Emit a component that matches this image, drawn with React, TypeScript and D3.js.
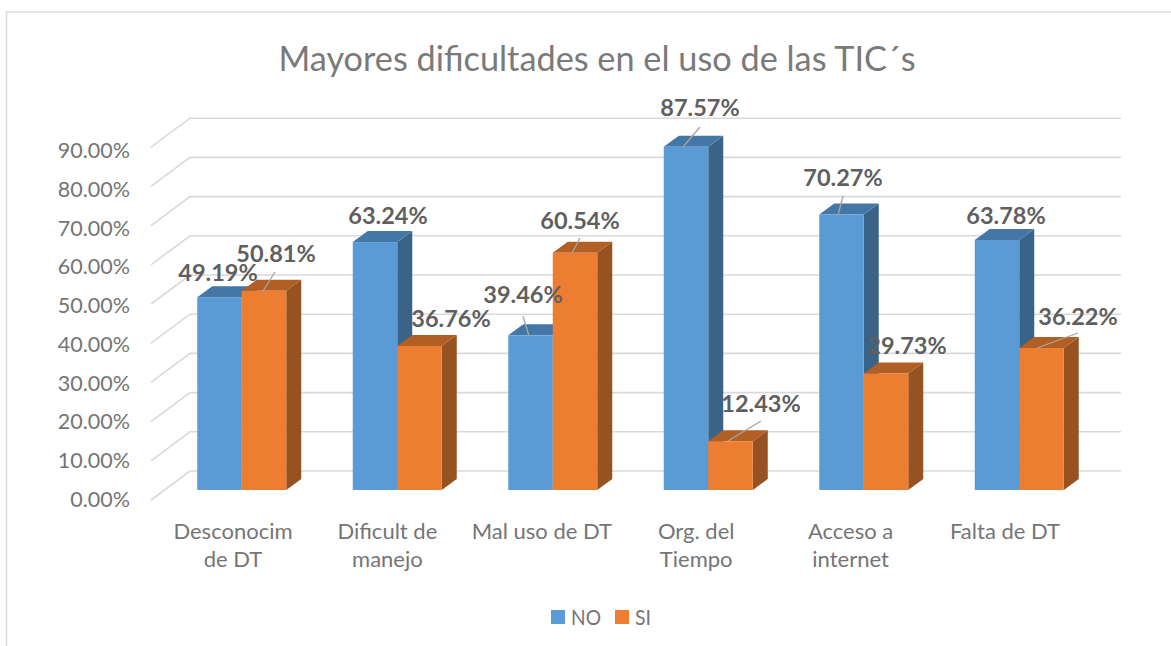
import React from "react";
import * as d3 from "d3";

const categories = [["Desconocim", "de DT"], ["Dificult de", "manejo"], ["Mal uso de DT"], ["Org. del", "Tiempo"], ["Acceso a", "internet"], ["Falta de DT"]];
const categoryKeys = ["a", "b", "c", "d", "e", "f"];
const valuesNo = [49.19, 63.24, 39.46, 87.57, 70.27, 63.78];
const valuesSi = [50.81, 36.76, 60.54, 12.43, 29.73, 36.22];
const yTicks = [0, 10, 20, 30, 40, 50, 60, 70, 80, 90];
const labelNo = [[218, 272], [388, 215], [523, 294], [700, 107], [843, 177], [1006, 215]];
const labelSi = [[276, 253], [451, 318], [580, 220], [761, 403], [907, 345], [1078, 316]];
const leaderNo: (number[] | null)[] = [null, null, [529, 336, 523, 316], [683, 147, 700, 127], [838, 215, 843, 196], null];
const leaderSi: (number[] | null)[] = [[263, 291, 275, 272], null, [572, 253, 580, 238], [728, 441, 761, 421], null, [1037, 348, 1078, 333]];

const W = 1171, H = 646;
const y = d3.scaleLinear().domain([0, 90]).range([490, 137.2]);
const tickLabelY = d3.scaleLinear().domain([0, 90]).range([507, 158]);
const x0 = d3.scaleBand<string>().domain(categoryKeys).range([164, 1097]).paddingInner(0.4277).paddingOuter(0.2138);
const labelX = d3.scalePoint<string>().domain(categoryKeys).range([233, 1005]);
const barW = 44.5, depthX = 15, depthY = 11;
const wallDx = 39, wallDy = 29, wallOffset = 19;
const font = "Lato, Carlito, sans-serif";

function Bar({ x, v, c }: { x: number; v: number; c: string[] }) {
  const t = y(v), b = y(0);
  return (
    <g>
      <polygon points={[[x + barW, t], [x + barW + depthX, t - depthY], [x + barW + depthX, b - depthY], [x + barW, b]].join(" ")} fill={c[2]} />
      <polygon points={[[x, t], [x + depthX, t - depthY], [x + barW + depthX, t - depthY], [x + barW, t]].join(" ")} fill={c[1]} />
      <rect x={x} y={t} width={barW} height={b - t} fill={c[0]} />
    </g>
  );
}

const BLUE = ["#5b9bd5", "#4477a6", "#3a6388"];
const ORANGE = ["#ed7d31", "#b25f26", "#965220"];

export default function App() {
  const wallRight = 1121, wallLeft = 190;
  return (
    <svg width={W} height={H} viewBox={`0 0 ${W} ${H}`} style={{ position: "absolute", left: 0, top: 0, background: "#fff" }}>
      <path d={`M6.5 ${H}V12H${W}`} fill="none" stroke="#dedede" strokeWidth={1.6} />
      <text x={597} y={71} textAnchor="middle" fontFamily={font} fontSize={34} fill="#7a7a7a" textLength={637} lengthAdjust="spacingAndGlyphs">Mayores dificultades en el uso de las TIC´s</text>
      {yTicks.map((t) => {
        const by = y(t) - wallOffset;
        return (
          <g key={t}>
            <path d={`M${wallLeft - wallDx} ${by + wallDy}L${wallLeft} ${by}H${wallRight}`} fill="none" stroke="#d9d9d9" strokeWidth={1.6} />
            <text x={130} y={tickLabelY(t)} textAnchor="end" fontFamily={font} fontSize={21.5} fill="#757575">{t.toFixed(2)}%</text>
          </g>
        );
      })}
      {categoryKeys.map((k, i) => {
        const gx = x0(k)! + x0.bandwidth() / 2 - barW;
        return (
          <g key={k}>
            <Bar x={gx} v={valuesNo[i]} c={BLUE} />
            <Bar x={gx + barW} v={valuesSi[i]} c={ORANGE} />
            {categories[i].map((l, j) => (
              <text key={j} x={labelX(k)!} y={539 + j * 28} textAnchor="middle" fontFamily={font} fontSize={22} fill="#757575">{l}</text>
            ))}
          </g>
        );
      })}
      {[...leaderNo, ...leaderSi].map((l, i) => l && (
        <line key={i} x1={l[0]} y1={l[1]} x2={l[2]} y2={l[3]} stroke="#a6a6a6" strokeWidth={1.3} />
      ))}
      {[[labelNo, valuesNo], [labelSi, valuesSi]].map(([pos, vals]: any, s) => vals.map((v: number, i: number) => (
        <text key={`${s}${i}`} x={pos[i][0]} y={pos[i][1] + 9} textAnchor="middle" fontFamily={font} fontWeight={700} fontSize={23.5} fill="#5f5f5f">{v.toFixed(2)}%</text>
      )))}
      <rect x={551} y={610} width={14} height={14} fill="#5b9bd5" />
      <text x={571} y={625} fontFamily={font} fontSize={21} fill="#757575" textLength={30} lengthAdjust="spacingAndGlyphs">NO</text>
      <rect x={615} y={610} width={14} height={14} fill="#ed7d31" />
      <text x={635} y={625} fontFamily={font} fontSize={21} fill="#757575" textLength={16} lengthAdjust="spacingAndGlyphs">SI</text>
    </svg>
  );
}
